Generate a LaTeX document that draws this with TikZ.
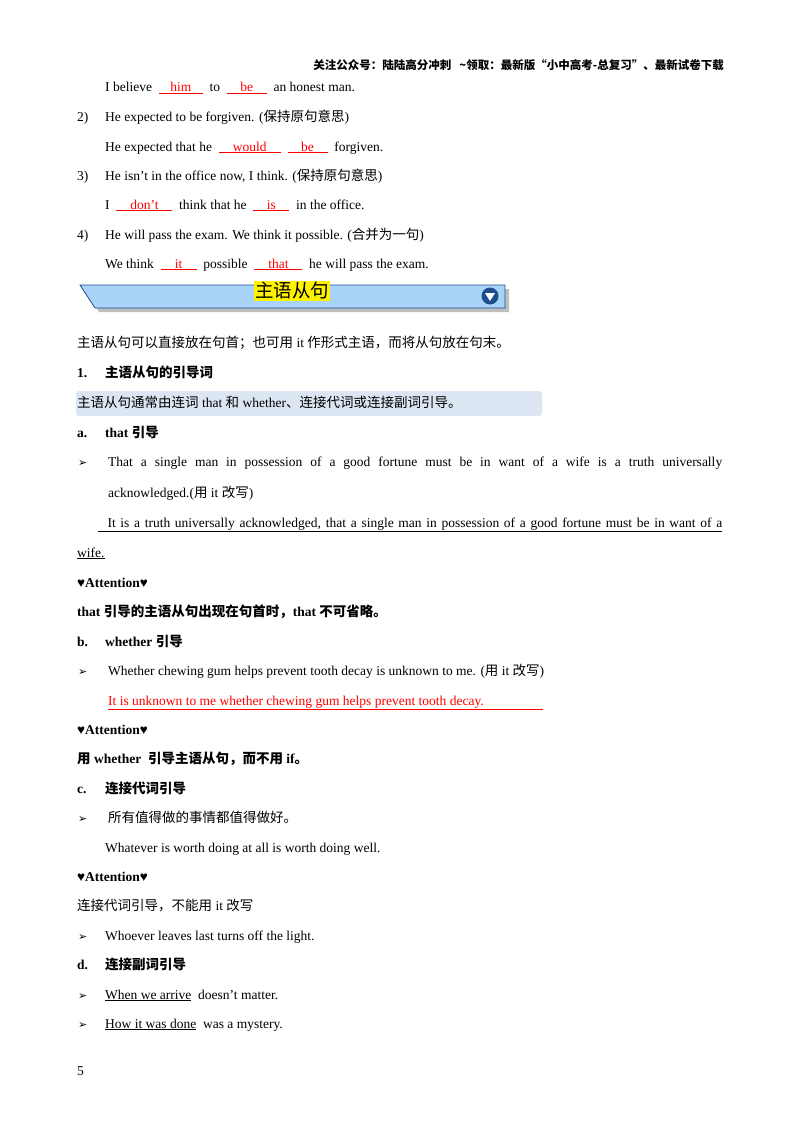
\documentclass[tikz,border=0pt]{standalone}
\usepackage{fontspec}
\usetikzlibrary{calc}
\setmainfont{Liberation Serif}
\newfontfamily\cjk{Noto Sans CJK SC}
\newfontfamily\dv{DejaVu Sans}
\newcommand{\zh}[1]{{\cjk #1}}
\newcommand{\arr}{{\dv\fontsize{11}{13}\selectfont ➢}}
\newcommand{\bl}[2]{\textcolor{red}{\underline{\makebox[#1pt]{#2}}}}
\definecolor{banfill}{HTML}{A9D3F7}
\definecolor{bandraw}{HTML}{1F4E8C}
\definecolor{hl}{HTML}{DCE6F2}
\begin{document}
\begin{tikzpicture}[x=1pt,y=-1pt,
  t/.style={anchor=base west,inner sep=0pt,font=\fontsize{13.5}{16}\selectfont},
  b/.style={t,font=\fontsize{13.5}{16}\selectfont\bfseries}]
\useasboundingbox (0,0) rectangle (800,1132);
\fill[white] (0,0) rectangle (800,1132);
\node[anchor=base east,inner sep=0pt,font=\fontsize{11.5}{14}\selectfont\cjk\bfseries] (hd) at (724,70) {关注公众号：陆陆高分冲刺\ \ \ \textasciitilde 领取：最新版“小中高考-总复习”、最新试卷下载};
\node[t] (l1) at (105,92) {I believe \ \bl{44}{him} \ to \ \bl{40}{be} \ an honest man.};
\node[t] (n2) at (77,121) {2)};
\node[t] (l2) at (105,121) {He expected to be forgiven. (\zh{保持原句意思})};
\node[t] (l3) at (105,151) {He expected that he \ \bl{62}{would} \ \bl{40}{be} \ forgiven.};
\node[t] (n3) at (77,180) {3)};
\node[t] (l4) at (105,180) {He isn’t in the office now, I think. (\zh{保持原句意思})};
\node[t] (l5) at (105,209) {I \ \bl{56}{don’t} \ think that he \ \bl{36}{is} \ in the office.};
\node[t] (n4) at (77,239) {4)};
\node[t] (l6) at (105,239) {He will pass the exam. We think it possible. (\zh{合并为一句})};
\node[t] (l7) at (105,268) {We think \ \bl{36}{it} \ possible \ \bl{48}{that} \ he will pass the exam.};
% banner
\fill[gray!50] (84,289) -- (509,289) -- (509,312) -- (99,312) -- cycle;
\draw[bandraw,fill=banfill,line width=0.8pt] (80,285) -- (505,285) -- (505,308) -- (95,308) -- cycle;
\node[fill=yellow,inner sep=1pt,font=\fontsize{18.5}{20}\selectfont\cjk] (ttl) at (292,291) {主语从句};
\node[circle,fill=bandraw,minimum size=17pt,inner sep=0pt] (ic) at (490,296) {};
\fill[white] ($(ic)+(-5,-3)$) -- ($(ic)+(5,-3)$) -- ($(ic)+(0,5)$) -- cycle;
\node[t] (p1) at (77,347) {\zh{主语从句可以直接放在句首；也可用} it \zh{作形式主语，而将从句放在句末。}};
\node[b] (h1n) at (77,377) {1.};
\node[b] (h1) at (105,377) {\zh{\bfseries 主语从句的引导词}};
\fill[hl,rounded corners=3pt] (76,391) rectangle (542,416);
\node[t] (p2) at (77,407) {\zh{主语从句通常由连词} that \zh{和} whether\zh{、连接代词或连接副词引导。}};
\node[b] (an) at (77,437) {a.};
\node[b] (a) at (105,437) {that \zh{\bfseries 引导}};
\node[t] (ar1) at (78,466) {\arr};
\node[t] (s1) at (108,466) {\makebox[614pt][s]{That a single man in possession of a good fortune must be in want of a wife is a truth universally}};
\node[t] (s2) at (108,497) {acknowledged.(\zh{用} it \zh{改写})};
\node[t] (s3) at (98,527) {\underline{\makebox[624pt][s]{\ \ It is a truth universally acknowledged, that a single man in possession of a good fortune must be in want of a}}};
\node[t] (s4) at (77,557) {\underline{wife.}};
\node[b] (at1) at (77,587) {♥Attention♥};
\node[b] (r1) at (77,616) {that \zh{\bfseries 引导的主语从句出现在句首时，}that \zh{\bfseries 不可省略。}};
\node[b] (bn) at (77,646) {b.};
\node[b] (bb) at (105,646) {whether \zh{\bfseries 引导}};
\node[t] (ar2) at (78,675) {\arr};
\node[t] (w1) at (108,675) {Whether chewing gum helps prevent tooth decay is unknown to me. (\zh{用} it \zh{改写})};
\node[t] (w2) at (108,705) {\textcolor{red}{\underline{\makebox[435pt][l]{It is unknown to me whether chewing gum helps prevent tooth decay.}}}};
\node[b] (at2) at (77,734) {♥Attention♥};
\node[b] (r2) at (77,763) {\zh{\bfseries 用} whether \ \zh{\bfseries 引导主语从句，而不用} if\zh{\bfseries 。}};
\node[b] (cn) at (77,793) {c.};
\node[b] (cc) at (105,793) {\zh{\bfseries 连接代词引导}};
\node[t] (ar3) at (78,822) {\arr};
\node[t] (c1) at (108,822) {\zh{所有值得做的事情都值得做好。}};
\node[t] (c2) at (105,852) {Whatever is worth doing at all is worth doing well.};
\node[b] (at3) at (77,881) {♥Attention♥};
\node[t] (r3) at (77,910) {\zh{连接代词引导，不能用} it \zh{改写}};
\node[t] (ar4) at (78,940) {\arr};
\node[t] (c3) at (105,940) {Whoever leaves last turns off the light.};
\node[b] (dn) at (77,969) {d.};
\node[b] (dd) at (105,969) {\zh{\bfseries 连接副词引导}};
\node[t] (ar5) at (78,999) {\arr};
\node[t] (d1) at (105,999) {\underline{When we arrive}\ \ doesn’t matter.};
\node[t] (ar6) at (78,1028) {\arr};
\node[t] (d2) at (105,1028) {\underline{How it was done}\ \ was a mystery.};
\node[t] (pg) at (77,1075) {5};
\end{tikzpicture}
\end{document}
